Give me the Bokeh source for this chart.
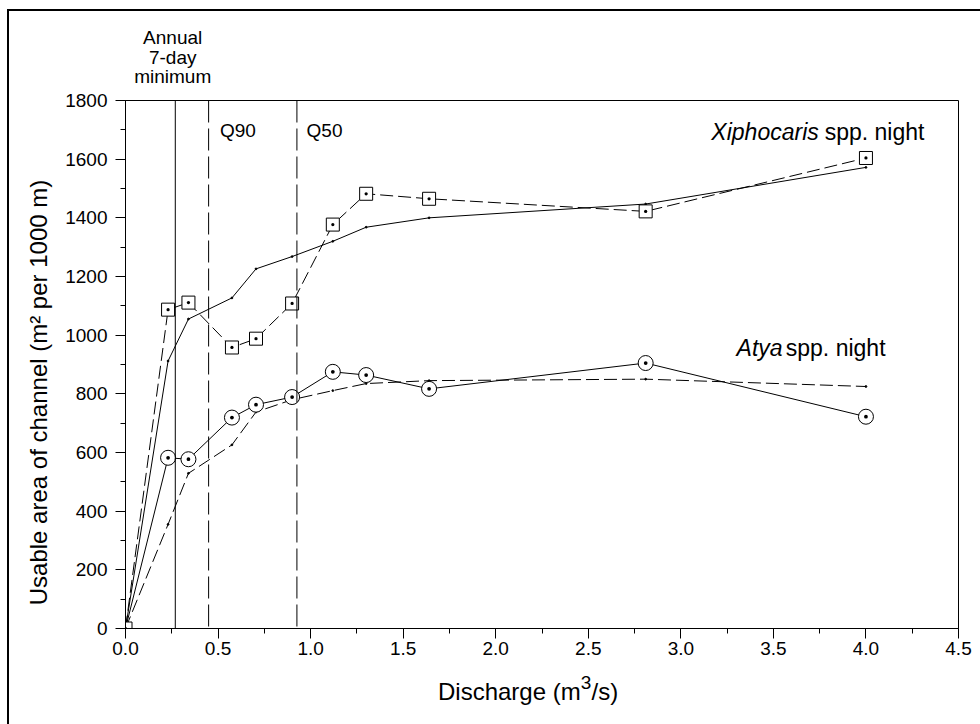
import math
from bokeh.plotting import figure
from bokeh.layouts import column, row
from bokeh.models import Range1d, SingleIntervalTicker, NumeralTickFormatter, Span, Label
from bokeh.core.properties import value
from bokeh.embed import file_html
from bokeh.resources import INLINE

# ---- data ----
discharge = [0.0, 0.23, 0.34, 0.575, 0.705, 0.90, 1.12, 1.30, 1.64, 2.81, 4.0]
xiph_observed = [0, 1087, 1111, 958, 988, 1108, 1377, 1482, 1465, 1422, 1604]
xiph_model = [0, 912, 1055, 1127, 1226, 1268, 1320, 1368, 1400, 1447, 1572]
atya_observed = [0, 582, 577, 719, 763, 789, 875, 864, 817, 905, 722]
atya_model = [0, 355, 529, 626, 738, 780, 811, 835, 845, 850, 825]

annual_7day_min = 0.269
q90 = 0.449
q50 = 0.926

x_ticks_interval = 0.5
y_ticks_interval = 200

FONT = "Liberation Sans"

x_range = Range1d(0, 4.5)

TOP_H = 77
MAIN_H = 580
BOTTOM_H = 56
LEFT_H = MAIN_H + BOTTOM_H


def strip(width, height, xr, yr, **kw):
    f = figure(width=width, height=height, output_backend="svg", toolbar_location=None,
               x_range=xr, y_range=yr, x_axis_location=None, y_axis_location=None,
               min_border_top=0, min_border_bottom=0, **kw)
    f.xgrid.visible = False
    f.ygrid.visible = False
    f.outline_line_color = None
    f.background_fill_color = "white"
    f.border_fill_color = "white"
    return f


# ---- top strip: "Annual 7-day minimum" caption ----
top = strip(971, TOP_H, x_range, Range1d(0, TOP_H), min_border_left=116, min_border_right=22)
top.text(x=[0.255, 0.255, 0.255], y=[51, 31.5, 12], text=["Annual", "7-day", "minimum"],
         text_align="center", text_baseline="alphabetic",
         text_font=value(FONT), text_font_size="19px", text_color="black")

# ---- left strip: y axis title ----
left = strip(50, LEFT_H, Range1d(0, 50), Range1d(0, LEFT_H), min_border_left=0, min_border_right=0)
left.text(x=[29], y=[332], text=["Usable area of channel (m² per 1000 m)"], angle=math.pi / 2,
          text_align="center", text_baseline="middle",
          text_font=value(FONT), text_font_size="24px", text_color="black")

# ---- bottom strip: x axis title with superscript ----
bottom = strip(921, BOTTOM_H, x_range, Range1d(0, BOTTOM_H), min_border_left=66, min_border_right=22)
bottom.text(x=[1.688], y=[33], text=["Discharge (m"], text_align="left", text_baseline="alphabetic",
            text_font=value(FONT), text_font_size="24px", text_color="black")
bottom.text(x=[2.459], y=[42], text=["3"], text_align="left", text_baseline="alphabetic",
            text_font=value(FONT), text_font_size="19px", text_color="black")
bottom.text(x=[2.518], y=[33], text=["/s)"], text_align="left", text_baseline="alphabetic",
            text_font=value(FONT), text_font_size="24px", text_color="black")

# ---- main plot ----
p = figure(width=921, height=MAIN_H, output_backend="svg", toolbar_location=None,
           x_range=x_range, y_range=Range1d(0, 1800),
           min_border_left=66, min_border_right=22, min_border_top=12, min_border_bottom=40)

p.xgrid.visible = False
p.ygrid.visible = False
p.outline_line_color = "black"
p.outline_line_width = 1
p.background_fill_color = "white"
p.border_fill_color = "white"

p.xaxis.ticker = SingleIntervalTicker(interval=x_ticks_interval, num_minor_ticks=2)
p.yaxis.ticker = SingleIntervalTicker(interval=y_ticks_interval, num_minor_ticks=2)
p.xaxis.formatter = NumeralTickFormatter(format="0.0")

for ax in (p.xaxis, p.yaxis):
    ax.axis_line_color = "black"
    ax.major_tick_line_color = "black"
    ax.minor_tick_line_color = "black"
    ax.major_tick_in = 0
    ax.minor_tick_in = 0
    ax.major_tick_out = 10
    ax.minor_tick_out = 5
    ax.major_label_text_font = FONT
    ax.major_label_text_font_size = "19px"
    ax.major_label_text_color = "black"

p.yaxis.major_label_standoff = 8
p.xaxis.major_label_standoff = 3

# reference discharge lines
p.add_layout(Span(location=annual_7day_min, dimension="height", line_color="black", line_width=1))
p.add_layout(Span(location=q90, dimension="height", line_color="black", line_width=1, line_dash="22 6"))
p.add_layout(Span(location=q50, dimension="height", line_color="black", line_width=1, line_dash="22 6"))

# model lines
p.line(discharge, xiph_model, line_color="black", line_width=1)
p.line(discharge, atya_model, line_color="black", line_width=1, line_dash="13 5")
p.scatter(discharge, xiph_model, size=1.8, color="black")
p.scatter(discharge, atya_model, size=1.8, color="black")

# observed lines
p.line(discharge, xiph_observed, line_color="black", line_width=1, line_dash="13 5")
p.line(discharge, atya_observed, line_color="black", line_width=1)
p.scatter(discharge[1:], atya_observed[1:], marker="circle_dot", size=15,
          fill_color="white", line_color="black", line_width=1)
p.scatter(discharge, xiph_observed, marker="square_dot", size=13,
          fill_color="white", line_color="black", line_width=1)

# annotations
p.add_layout(Label(x=0.510, y=1698, text="Q90", text_align="left", text_baseline="alphabetic",
                   text_font=FONT, text_font_size="19px", text_color="black"))
p.add_layout(Label(x=0.978, y=1698, text="Q50", text_align="left", text_baseline="alphabetic",
                   text_font=FONT, text_font_size="19px", text_color="black"))

p.add_layout(Label(x=3.745, y=1694, text="Xiphocaris", text_align="right", text_baseline="alphabetic",
                   text_font=FONT, text_font_size="23px", text_font_style="italic", text_color="black"))
p.add_layout(Label(x=3.777, y=1694, text="spp. night", text_align="left", text_baseline="alphabetic",
                   text_font=FONT, text_font_size="23px", text_color="black"))
p.add_layout(Label(x=3.55, y=956, text="Atya", text_align="right", text_baseline="alphabetic",
                   text_font=FONT, text_font_size="23px", text_font_style="italic", text_color="black"))
p.add_layout(Label(x=3.567, y=956, text="spp. night", text_align="left", text_baseline="alphabetic",
                   text_font=FONT, text_font_size="23px", text_color="black"))

layout = column(top, row(left, column(p, bottom, spacing=0), spacing=0), spacing=0)
layout.margin = (9, 0, 0, 7)
layout.styles = {"border-left": "2px solid black", "border-top": "2px solid black"}

open("out.html", "w").write(file_html(layout, INLINE))
